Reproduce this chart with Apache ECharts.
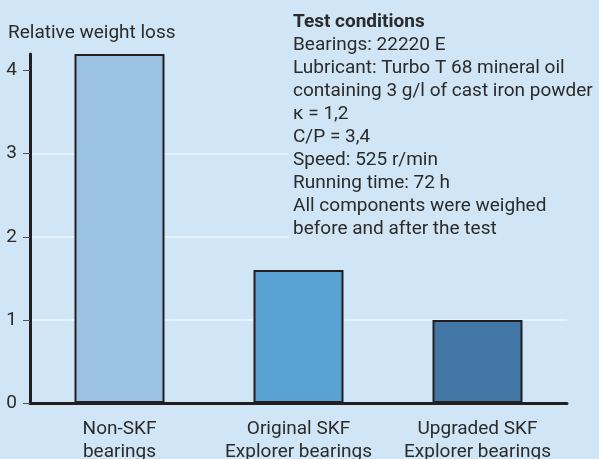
<!DOCTYPE html>
<html>
<head>
<meta charset="utf-8">
<script src="https://cdn.jsdelivr.net/npm/echarts@6/dist/echarts.min.js"></script>
<style>
  html, body { margin: 0; padding: 0; background: #d0e6f6; }
  #chart { width: 599px; height: 459px; }
</style>
</head>
<body>
<div id="chart"></div>
<script>
// data
const categories = ['Non-SKF\nbearings', 'Original SKF\nExplorer bearings', 'Upgraded SKF\nExplorer bearings'];
const weightLoss = [4.2, 1.6, 1.0];
const yTicks = [0, 1, 2, 3, 4];
const conditionTitle = 'Test conditions';
const conditionLines = [
  'Bearings: 22220 E',
  'Lubricant: Turbo T 68 mineral oil',
  'containing 3 g/l of cast iron powder',
  'κ = 1,2',
  'C/P = 3,4',
  'Speed: 525 r/min',
  'Running time: 72 h',
  'All components were weighed',
  'before and after the test'
];

const barColors = ['#9bc2e3', '#5aa1d4', '#4277a6'];
const bg = '#d0e6f6';
const ink = '#2b2b2b';
const font = 'Roboto';
const fs = 19;

const chart = echarts.init(document.getElementById('chart'));

chart.setOption({
  backgroundColor: bg,
  animation: false,
  textStyle: { fontFamily: font, color: ink },
  title: {
    text: 'Relative weight loss',
    left: 8,
    top: 22,
    padding: 0,
    textStyle: { fontFamily: font, fontSize: fs, fontWeight: 'normal', color: ink, lineHeight: 23 }
  },
  grid: { left: 30, right: 32, top: 54, bottom: 56, containLabel: false, outerBoundsMode: 'none' },
  xAxis: {
    type: 'category',
    data: categories,
    axisLine: { lineStyle: { color: '#231f20', width: 3 } },
    axisTick: { show: false },
    axisLabel: { interval: 0, margin: 15, fontSize: fs, lineHeight: 23, color: ink, fontFamily: font }
  },
  yAxis: {
    type: 'value',
    min: 0,
    max: 4.2,
    interval: 1,
    axisLine: { show: true, lineStyle: { color: '#231f20', width: 3 } },
    axisTick: { show: true, length: 7, customValues: yTicks, lineStyle: { color: '#555', width: 1 } },
    axisLabel: { margin: 13, fontSize: fs, color: ink, fontFamily: font, customValues: yTicks },
    splitLine: { show: true, showMaxLine: false, showMinLine: false, lineStyle: { color: '#eef6fc', width: 1.5 } }
  },
  series: [{
    type: 'bar',
    data: weightLoss.map((v, i) => ({ value: v, itemStyle: { color: barColors[i] } })),
    barWidth: 90,
    itemStyle: { borderColor: '#231f20', borderWidth: 2 }
  }],
  graphic: [
    {
      type: 'rect',
      shape: { x: 289, y: 0, width: 310, height: 250 },
      style: { fill: bg },
      z: 5
    },
    {
      type: 'text',
      left: 293,
      top: 11,
      z: 6,
      style: {
        text: '{b|' + conditionTitle + '}\n' + conditionLines.join('\n'),
        font: fs + 'px ' + font,
        fill: ink,
        lineHeight: 23,
        rich: {
          b: { fontWeight: 'bold', fontSize: fs, fontFamily: font, fill: ink, lineHeight: 23 }
        }
      }
    }
  ]
});
</script>
</body>
</html>
